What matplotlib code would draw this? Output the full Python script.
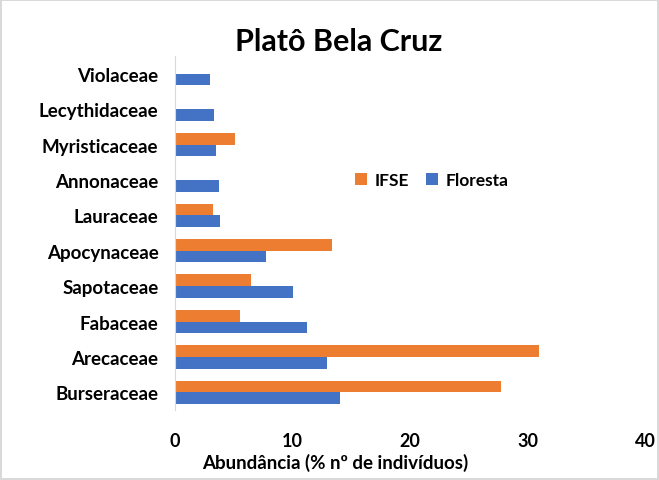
import matplotlib.pyplot as plt
import numpy as np

# ─── Data ─────────────────────────────────────────────────────────────────────
families = [
    "Burseraceae", "Arecaceae", "Fabaceae", "Sapotaceae", "Apocynaceae",
    "Lauraceae", "Annonaceae", "Myristicaceae", "Lecythidaceae", "Violaceae",
]
ifse = [27.7, 31.0, 5.5, 6.5, 13.4, 3.2, 0, 5.1, 0, 0]
floresta = [14.0, 12.9, 11.2, 10.0, 7.7, 3.8, 3.7, 3.5, 3.3, 3.0]
x_ticks = [0, 10, 20, 30, 40]

COLORS = {"IFSE": "#ED7D31", "Floresta": "#4472C4"}

plt.rcParams["font.family"] = ["Lato", "DejaVu Sans"]

fig = plt.figure(figsize=(6.59, 4.81), dpi=100, edgecolor="#d9d9d9", linewidth=1.5)
ax = fig.add_axes([0.2656, 0.1455, 0.7132, 0.736])

y = np.arange(len(families))
h = 0.33
ax.barh(y + h / 2, ifse, height=h, color=COLORS["IFSE"], label="IFSE")
ax.barh(y - h / 2, floresta, height=h, color=COLORS["Floresta"], label="Floresta")

ax.set_xlim(0, 40)
ax.set_ylim(-0.5, len(families) - 0.5)
ax.set_xticks(x_ticks)
ax.set_xticklabels([str(t) for t in x_ticks], fontsize=13, fontweight="bold")
ax.set_yticks(y)
ax.set_yticklabels(families, fontsize=13.5, fontweight="bold")
ax.tick_params(length=0)
ax.tick_params(axis="y", pad=12)
ax.tick_params(axis="x", pad=16)

for s in ["top", "right", "bottom"]:
    ax.spines[s].set_visible(False)
ax.spines["left"].set_color("#d9d9d9")

fig.text(0.514, 0.913, "Platô Bela Cruz", ha="center", va="center",
         fontsize=22, fontweight="bold")
fig.text(0.508, 0.037, "Abundância (% nº de indivíduos)", ha="center", va="center",
         fontsize=13.5, fontweight="bold")

fig.legend(loc="center", bbox_to_anchor=(0.655, 0.623), ncol=2, frameon=False,
           handlelength=0.7, handleheight=0.7, handletextpad=0.4,
           columnspacing=1.0, prop={"weight": "bold", "size": 12.5})

fig.savefig("out.png", dpi=100)
